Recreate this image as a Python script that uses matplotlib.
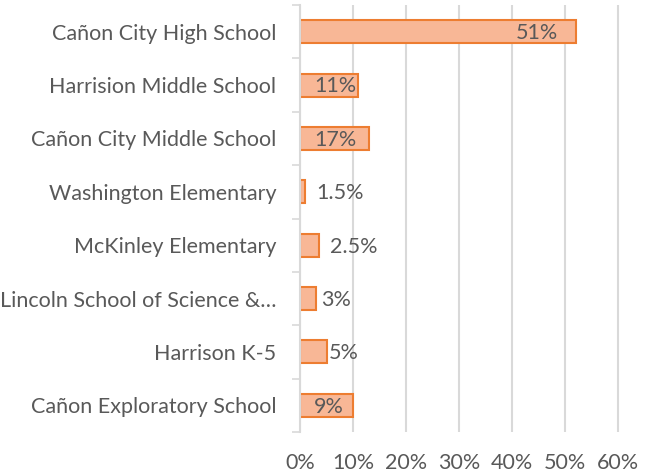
import matplotlib.pyplot as plt
import numpy as np
from matplotlib.ticker import FixedLocator, PercentFormatter

categories = ["Cañon City High School", "Harrision Middle School", "Cañon City Middle School",
              "Washington Elementary", "McKinley Elementary", "Lincoln School of Science &…",
              "Harrison K-5", "Cañon Exploratory School"]
values = [52, 11, 13, 1, 3.6, 3, 5, 10]
labels = ["51%", "11%", "17%", "1.5%", "2.5%", "3%", "5%", "9%"]
inside = [True, True, True, False, False, False, False, True]
xticks = [0, 10, 20, 30, 40, 50, 60]

plt.rcParams['font.family'] = ['Lato', 'DejaVu Sans']
fig = plt.figure(figsize=(6.55, 4.75), dpi=100)
ax = fig.add_axes([300/655, 1-432/475, 320/655, 427/475])

n = len(categories)
y = np.arange(n)[::-1]
ax.barh(y, values, height=0.43, color='#F8B796', edgecolor='#ED7D31', linewidth=1.5, zorder=3)
ax.set_xlim(0, 60.3)
ax.set_ylim(-0.5, n-0.5)

gray = '#595959'
offsets_px = [-18, -2, -12, 11, 11, 5, 2, -9]
for yi, v, lab, ins, off in zip(y, values, labels, inside, offsets_px):
    ax.annotate(lab, (v, yi), xytext=(off*0.72, -1), textcoords='offset points',
                ha='right' if ins else 'left', va='center', fontsize=15.5, color=gray, zorder=4)

ax.set_yticks(y)
ax.set_yticklabels(categories, fontsize=15.5, color=gray)
ax.yaxis.set_minor_locator(FixedLocator(np.arange(-0.5, n, 1.0)))
ax.tick_params(axis='y', which='major', length=0, pad=17)
ax.tick_params(axis='y', which='minor', length=6, color='#D9D9D9', width=1.2)

ax.set_xticks(xticks)
ax.xaxis.set_major_formatter(PercentFormatter(decimals=0))
ax.tick_params(axis='x', length=0, pad=15, labelsize=15.5, labelcolor=gray)
ax.grid(axis='x', color='#D9D9D9', linewidth=1.5, zorder=0)

for s in ['top', 'right', 'bottom']:
    ax.spines[s].set_visible(False)
ax.spines['left'].set_color('#D9D9D9')
ax.spines['left'].set_linewidth(1.5)
ax.spines['left'].set_zorder(5)

fig.savefig('out.png', dpi=100)
